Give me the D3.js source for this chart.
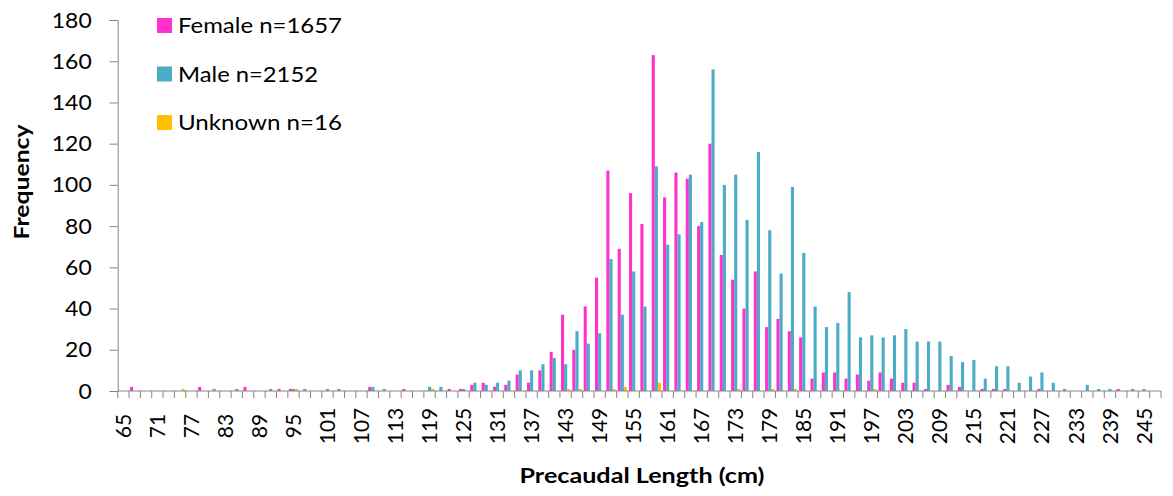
<!DOCTYPE html>
<html>
<head>
<meta charset="utf-8">
<script src="https://cdn.jsdelivr.net/npm/d3@7"></script>
<style>
  body { margin: 0; background: #fff; }
  svg { display: block; }
  text { font-family: Lato, "Open Sans", sans-serif; fill: #000; }
</style>
</head>
<body>
<div class="canvas"></div>
<script>
// precaudal length classes (cm), one bar group each
const lengths = [
  65, 67, 69, 71, 73, 75, 77, 79, 81, 83, 85, 87, 89, 91, 93, 95, 97, 99, 101, 103,
  105, 107, 109, 111, 113, 115, 117, 119, 121, 123, 125, 127, 129, 131, 133, 135, 137, 139, 141, 143,
  145, 147, 149, 151, 153, 155, 157, 159, 161, 163, 165, 167, 169, 171, 173, 175, 177, 179, 181, 183,
  185, 187, 189, 191, 193, 195, 197, 199, 201, 203, 205, 207, 209, 211, 213, 215, 217, 219, 221, 223,
  225, 227, 229, 231, 233, 235, 237, 239, 241, 243, 245, 247
];

const female = [
  0, 2, 0, 0, 0, 0, 0, 2, 0, 0, 0, 2, 0, 0, 1, 1, 0, 0, 0, 0,
  0, 0, 2, 0, 0, 1, 0, 0, 0, 1, 1, 3, 4, 2, 3, 8, 4, 10, 19, 37,
  20, 41, 55, 107, 69, 96, 81, 163, 94, 106, 103, 80, 120, 66, 54, 40, 58, 31, 35, 29,
  26, 6, 9, 9, 6, 8, 5, 9, 6, 4, 4, 1, 0, 3, 2, 0, 1, 1, 1, 0,
  0, 1, 0, 0, 0, 0, 0, 0, 1, 0, 0, 0
];

const male = [
  0, 0, 0, 0, 0, 0, 0, 0, 1, 0, 1, 0, 0, 1, 0, 1, 1, 0, 1, 1,
  0, 0, 2, 1, 0, 0, 0, 2, 2, 0, 1, 4, 3, 4, 5, 10, 10, 13, 16, 13,
  29, 23, 28, 64, 37, 58, 41, 109, 71, 76, 105, 82, 156, 100, 105, 83, 116, 78, 57, 99,
  67, 41, 31, 33, 48, 26, 27, 26, 27, 30, 24, 24, 24, 17, 14, 15, 6, 12, 12, 4,
  7, 9, 4, 1, 0, 3, 1, 1, 0, 1, 1, 0
];

const unknown = [
  0, 0, 0, 0, 0, 1, 0, 0, 0, 0, 0, 0, 0, 0, 0, 1, 0, 0, 0, 0,
  0, 0, 0, 0, 0, 0, 0, 1, 0, 0, 0, 0, 0, 0, 0, 0, 0, 0, 0, 1,
  1, 0, 0, 1, 2, 0, 0, 4, 0, 0, 0, 0, 0, 0, 1, 0, 0, 1, 0, 1,
  0, 0, 0, 0, 0, 0, 1, 0, 0, 0, 0, 0, 0, 0, 0, 0, 0, 0, 0, 0,
  0, 0, 0, 0, 0, 0, 0, 0, 0, 0, 0, 0
];

const seriesNames = ["Female n=1657", "Male n=2152", "Unknown n=16"];
const seriesColors = ["#FF33CC", "#4BACC6", "#FFC000"];

const yTicks = [0, 20, 40, 60, 80, 100, 120, 140, 160, 180];
const xTickLabels = [65, 71, 77, 83, 89, 95, 101, 107, 113, 119, 125, 131, 137, 143, 149, 155,
  161, 167, 173, 179, 185, 191, 197, 203, 209, 215, 221, 227, 233, 239, 245];

const width = 1173;
const height = 496;
const plot = { left: 117.7, right: 1161, top: 20, bottom: 391 };
const axisColor = "#868686";
// the source text is a little wider than Lato, stretch it to the measured widths
const digitWidth = 13.3;

const svg = d3
  .select(".canvas")
  .append("svg")
  .attr("width", width)
  .attr("height", height);

const x = d3.scaleBand().domain(lengths).range([plot.left, plot.right]).padding(0);
const xSeries = d3
  .scaleBand()
  .domain([0, 1, 2])
  .range([0, x.bandwidth()])
  .paddingInner(0)
  .paddingOuter(0.33);
const y = d3.scaleLinear().domain([0, 180]).range([plot.bottom, plot.top]);

const series = [female, male, unknown];

// bars
series.forEach((values, s) => {
  svg
    .append("g")
    .selectAll("rect")
    .data(values.map((v, i) => ({ len: lengths[i], v })).filter((d) => d.v > 0))
    .enter()
    .append("rect")
    .attr("x", (d) => x(d.len) + xSeries(s))
    .attr("width", xSeries.bandwidth())
    .attr("y", (d) => y(d.v))
    .attr("height", (d) => y(0) - y(d.v))
    .attr("fill", seriesColors[s]);
});

// y axis
const yAxis = svg
  .append("g")
  .attr("transform", `translate(${plot.left}, 0)`)
  .call(d3.axisLeft(y).tickValues(yTicks).tickSize(8).tickPadding(18));
yAxis.select(".domain").attr("stroke", axisColor);
yAxis.selectAll(".tick line").attr("stroke", axisColor);
yAxis
  .selectAll(".tick text")
  .style("font-size", "22px")
  .attr("fill", "#000")
  .attr("textLength", (d) => String(d).length * digitWidth)
  .attr("lengthAdjust", "spacingAndGlyphs");

// x axis line and boundary tick marks
const xAxis = svg.append("g");
xAxis
  .append("line")
  .attr("x1", plot.left)
  .attr("x2", plot.right)
  .attr("y1", y(0))
  .attr("y2", y(0))
  .attr("stroke", axisColor);

xAxis
  .selectAll("line.tick")
  .data(d3.range(lengths.length + 1))
  .enter()
  .append("line")
  .attr("class", "tick")
  .attr("x1", (i) => plot.left + i * x.step())
  .attr("x2", (i) => plot.left + i * x.step())
  .attr("y1", y(0))
  .attr("y2", y(0) + 7)
  .attr("stroke", axisColor);

xAxis
  .selectAll("text")
  .data(xTickLabels)
  .enter()
  .append("text")
  .attr("transform", (d) => `translate(${x(d) + x.bandwidth() / 2}, 426) rotate(-90)`)
  .attr("text-anchor", "middle")
  .attr("dy", "0.36em")
  .style("font-size", "21px")
  .text((d) => d);

// axis titles
svg
  .append("text")
  .attr("transform", "translate(29, 182) rotate(-90)")
  .attr("text-anchor", "middle")
  .style("font-size", "21px")
  .style("font-weight", "bold")
  .attr("textLength", 115)
  .attr("lengthAdjust", "spacingAndGlyphs")
  .text("Frequency");

svg
  .append("text")
  .attr("x", 642)
  .attr("y", 483)
  .attr("text-anchor", "middle")
  .style("font-size", "21px")
  .style("font-weight", "bold")
  .attr("textLength", 245)
  .attr("lengthAdjust", "spacingAndGlyphs")
  .text("Precaudal Length (cm)");

// legend
const legendWidths = [164, 140, 164];
const legend = svg.append("g").attr("transform", "translate(157, 18)");
const legendItem = legend
  .selectAll("g")
  .data(seriesNames)
  .enter()
  .append("g")
  .attr("transform", (d, i) => `translate(0, ${i * 48.5})`);

legendItem
  .append("rect")
  .attr("width", 15)
  .attr("height", 15)
  .attr("fill", (d, i) => seriesColors[i]);

legendItem
  .append("text")
  .attr("x", 21)
  .attr("y", 15)
  .style("font-size", "21px")
  .attr("textLength", (d, i) => legendWidths[i])
  .attr("lengthAdjust", "spacingAndGlyphs")
  .text((d) => d);
</script>
</body>
</html>
